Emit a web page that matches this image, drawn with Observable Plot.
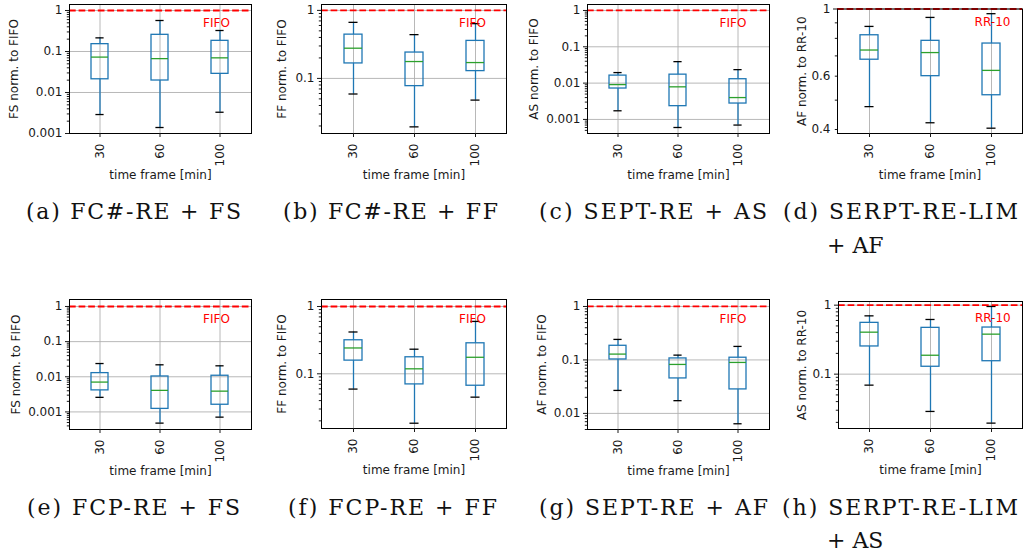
<!DOCTYPE html>
<html><head><meta charset="utf-8">
<script src="https://cdn.jsdelivr.net/npm/d3@7"></script>
<script src="https://cdn.jsdelivr.net/npm/@observablehq/plot@0.6"></script>
<style>
html,body{margin:0;padding:0;background:#fff;}
#root{position:relative;width:1023px;height:555px;overflow:hidden;background:#fff;}
#root svg{position:absolute;}
</style></head><body><div id="root"></div>
<script>
// ---- categories ----
const frames = ["30", "60", "100"];
const xLabel = "time frame [min]";

// ---- box statistics per panel: low whisker, Q1, median, Q3, high whisker (per frame) ----
const aLow = [0.0029, 0.0014, 0.0033], aQ1 = [0.021, 0.0196, 0.0285], aMed = [0.073, 0.067, 0.070], aQ3 = [0.151, 0.255, 0.182], aHigh = [0.215, 0.57, 0.325];
const bLow = [0.059, 0.0194, 0.048], bQ1 = [0.166, 0.077, 0.128], bMed = [0.278, 0.177, 0.171], bQ3 = [0.44, 0.24, 0.356], bHigh = [0.667, 0.44, 0.638];
const cLow = [0.00173, 0.0006, 0.0007], cQ1 = [0.0071, 0.00232, 0.00274], cMed = [0.0091, 0.0079, 0.004], cQ3 = [0.0161, 0.0171, 0.0128], cHigh = [0.0195, 0.039, 0.0235];
const dLow = [0.476, 0.421, 0.404], dQ1 = [0.680, 0.600, 0.519], dMed = [0.732, 0.718, 0.627], dQ3 = [0.819, 0.785, 0.769], dHigh = [0.876, 0.938, 0.965];
const eLow = [0.0026, 0.00048, 0.00071], eQ1 = [0.0041, 0.00122, 0.0016], eMed = [0.00706, 0.0041, 0.0039], eQ3 = [0.0127, 0.0102, 0.0107], eHigh = [0.0238, 0.0219, 0.0205];
const fLow = [0.0593, 0.01845, 0.045], fQ1 = [0.157, 0.0696, 0.0665], fMed = [0.242, 0.1186, 0.176], fQ3 = [0.315, 0.176, 0.284], fHigh = [0.418, 0.232, 0.6];
const gLow = [0.0269, 0.0173, 0.0064], gQ1 = [0.102, 0.0451, 0.0281], gMed = [0.1286, 0.0824, 0.0898], gQ3 = [0.184, 0.1067, 0.11], gHigh = [0.242, 0.123, 0.179];
const hLow = [0.0693, 0.0288, 0.0195], hQ1 = [0.252, 0.128, 0.154], hMed = [0.406, 0.188, 0.38], hQ3 = [0.554, 0.469, 0.474], hHigh = [0.70, 0.62, 0.957];

// ---- axis labels, reference labels, tick labels ----
const yLabels = ["FS norm. to FIFO", "FF norm. to FIFO", "AS norm. to FIFO", "AF norm. to RR-10",
                 "FS norm. to FIFO", "FF norm. to FIFO", "AF norm. to FIFO", "AS norm. to RR-10"];
const refLabels = ["FIFO", "FIFO", "FIFO", "RR-10", "FIFO", "FIFO", "FIFO", "RR-10"];
const captions = ["(a) FC#-RE + FS", "(b) FC#-RE + FF", "(c) SEPT-RE + AS", "(d) SERPT-RE-LIM",
                  "(e) FCP-RE + FS", "(f) FCP-RE + FF", "(g) SEPT-RE + AF", "(h) SERPT-RE-LIM"];
const captionLine2 = ["", "", "", "+ AF", "", "", "", "+ AS"];
const ticks4 = [1, 0.1, 0.01, 0.001], ticks4Labels = ["1", "0.1", "0.01", "0.001"];
const ticks3 = [1, 0.1, 0.01], ticks3Labels = ["1", "0.1", "0.01"];
const ticks2 = [1, 0.1], ticks2Labels = ["1", "0.1"];
const ticksD = [1], ticksDLabels = ["1"];
const ticksDMinorLabeled = [0.6, 0.4], ticksDMinorLabels = ["0.6", "0.4"];

// ---- layout (positions only) ----
const panels = [
  {stats:[aLow,aQ1,aMed,aQ3,aHigh], dom:[0.001,1.40],   ticks:ticks4, tl:ticks4Labels, left:0,   top:0,   w:256, h:190, mL:69, mR:5, mT:4,   mB:57, ylDx:-55,   refDx:-3.5},
  {stats:[bLow,bQ1,bMed,bQ3,bHigh], dom:[0.0155,1.22],  ticks:ticks2, tl:ticks2Labels, left:256, top:0,   w:254, h:190, mL:65, mR:4, mT:4,   mB:57, ylDx:-39.3, refDx:-3},
  {stats:[cLow,cQ1,cMed,cQ3,cHigh], dom:[0.00041,1.46], ticks:ticks4, tl:ticks4Labels, left:510, top:0,   w:262, h:190, mL:77, mR:3, mT:4,   mB:57, ylDx:-53.7, refDx:-5},
  {stats:[dLow,dQ1,dMed,dQ3,dHigh], dom:[0.388,1.0],    ticks:ticksD, tl:ticksDLabels, extra:ticksDMinorLabeled, extraL:ticksDMinorLabels, left:772, top:0, w:251, h:190, mL:65, mR:1, mT:8.5, mB:57, ylDx:-35.3, refDx:1},
  {stats:[eLow,eQ1,eMed,eQ3,eHigh], dom:[0.000316,1.58],ticks:ticks4, tl:ticks4Labels, left:0,   top:290, w:256, h:200, mL:69, mR:5, mT:9,   mB:61, ylDx:-53.5, refDx:-3.5},
  {stats:[fLow,fQ1,fMed,fQ3,fHigh], dom:[0.0154,1.27],  ticks:ticks2, tl:ticks2Labels, left:256, top:290, w:254, h:200, mL:65, mR:4, mT:9,   mB:62, ylDx:-39.3, refDx:-3},
  {stats:[gLow,gQ1,gMed,gQ3,gHigh], dom:[0.005,1.35],   ticks:ticks3, tl:ticks3Labels, left:510, top:290, w:262, h:200, mL:77, mR:3, mT:9,   mB:61, ylDx:-45.7, refDx:-5},
  {stats:[hLow,hQ1,hMed,hQ3,hHigh], dom:[0.0163,1.13],  ticks:ticks2, tl:ticks2Labels, left:772, top:290, w:251, h:200, mL:66, mR:1, mT:11,  mB:62, ylDx:-36.3, refDx:1.3}
];
const capLayout = [
  {x:133.5, y:219, anchor:"middle", len:215}, {x:390.5, y:219, anchor:"middle", len:215},
  {x:653, y:219, anchor:"middle", len:228},   {x:783, y:219, anchor:"start", len:235, x2:827, y2:253},
  {x:133.5, y:515, anchor:"middle", len:213}, {x:392.5, y:515, anchor:"middle", len:209},
  {x:653.5, y:515, anchor:"middle", len:229}, {x:782, y:515, anchor:"start", len:236, x2:827, y2:548}
];

const BLUE = "#1f77b4", GREEN = "#2ca02c", GRID = "#b0b0b0", INK = "#1a1a1a";

function minorTicks(lo, hi) {
  const out = [];
  for (let e = Math.floor(Math.log10(lo)); e <= Math.ceil(Math.log10(hi)); e++)
    for (let k = 2; k <= 9; k++) {
      const v = +(k * Math.pow(10, e)).toPrecision(3);
      if (v >= lo * 0.999 && v <= hi) out.push(v);
    }
  return out;
}

const root = document.getElementById("root");

panels.forEach((p, pi) => {
  const [lo, q1, med, q3, hi] = p.stats;
  const data = frames.map((f, i) => ({frame: f, lo: lo[i], q1: q1[i], med: med[i], q3: q3[i], hi: hi[i]}));
  const step = (p.w - p.mL - p.mR) / 3;
  const capInset = step * 0.29 / 4;
  const labelTicks = p.extra ? p.ticks.concat(p.extra) : p.ticks;
  const labelText = p.extra ? p.tl.concat(p.extraL) : p.tl;
  const fmt = new Map(labelTicks.map((t, i) => [t, labelText[i]]));
  const chart = Plot.plot({
    width: p.w, height: p.h,
    marginLeft: p.mL, marginRight: p.mR, marginTop: p.mT, marginBottom: p.mB,
    style: {fontFamily: "DejaVu Sans", fontSize: "12px", color: INK, background: "transparent", overflow: "visible"},
    x: {type: "band", domain: frames, paddingInner: 0.71, paddingOuter: 0.355},
    y: {type: "log", domain: p.dom},
    marks: [
      Plot.ruleX(frames, {x: d => d, stroke: GRID, strokeWidth: 0.9}),
      Plot.ruleY(p.ticks, {y: d => d, stroke: GRID, strokeWidth: 0.9}),
      Plot.ruleX(data, {x: "frame", y1: "lo", y2: "q1", stroke: BLUE, strokeWidth: 1.3}),
      Plot.ruleX(data, {x: "frame", y1: "q3", y2: "hi", stroke: BLUE, strokeWidth: 1.3}),
      Plot.barY(data, {x: "frame", y1: "q1", y2: "q3", fill: "none", stroke: BLUE, strokeWidth: 1.3}),
      Plot.tickY(data, {x: "frame", y: "med", stroke: GREEN, strokeWidth: 1.3}),
      Plot.tickY(data, {x: "frame", y: "lo", stroke: "black", strokeWidth: 1.3, insetLeft: capInset, insetRight: capInset}),
      Plot.tickY(data, {x: "frame", y: "hi", stroke: "black", strokeWidth: 1.3, insetLeft: capInset, insetRight: capInset}),
      Plot.ruleY([1], {y: d => d, stroke: "red", strokeWidth: 1.8, strokeDasharray: "6.7,2.9"}),
      Plot.text([refLabels[pi]], {x: () => frames[2], y: () => 1, text: d => d, dx: p.refDx, dy: 13, fill: "red", fontSize: 12, lineAnchor: "middle"}),
      Plot.frame({stroke: "black", strokeWidth: 1}),
      Plot.axisY({ticks: labelTicks, tickSize: 0, tickPadding: 7, tickFormat: d => fmt.get(d), label: null}),
      Plot.axisY({ticks: p.ticks, tickSize: 4, tickFormat: () => "", label: null}),
      Plot.axisY({ticks: minorTicks(p.dom[0], p.dom[1]), tickSize: 2.2, tickFormat: () => "", label: null}),
      Plot.axisX({tickRotate: -90, tickSize: 4, tickPadding: 6, label: null}),
      Plot.text([yLabels[pi]], {frameAnchor: "left", dx: p.ylDx, rotate: -90, text: d => d, textAnchor: "middle", lineAnchor: "middle", fontSize: 12, fill: INK}),
      Plot.text([xLabel], {frameAnchor: "bottom", dy: 41.5, text: d => d, textAnchor: "middle", lineAnchor: "middle", fontSize: 12, fill: INK})
    ]
  });
  chart.style.left = p.left + "px";
  chart.style.top = p.top + "px";
  root.appendChild(chart);
});

// ---- captions ----
const ns = "http://www.w3.org/2000/svg";
const cap = document.createElementNS(ns, "svg");
cap.setAttribute("width", 1023); cap.setAttribute("height", 555);
cap.style.left = "0px"; cap.style.top = "0px";
captions.forEach((c, i) => {
  const L = capLayout[i];
  const t = document.createElementNS(ns, "text");
  t.setAttribute("x", L.x); t.setAttribute("y", L.y);
  t.setAttribute("text-anchor", L.anchor);
  t.setAttribute("textLength", L.len);
  t.setAttribute("lengthAdjust", "spacing");
  t.setAttribute("font-family", "DejaVu Serif");
  t.setAttribute("font-size", "22");
  t.setAttribute("fill", "#111");
  t.textContent = c;
  cap.appendChild(t);
  if (captionLine2[i]) {
    const t2 = document.createElementNS(ns, "text");
    t2.setAttribute("x", L.x2); t2.setAttribute("y", L.y2);
    t2.setAttribute("font-family", "DejaVu Serif");
    t2.setAttribute("font-size", "22");
    t2.setAttribute("fill", "#111");
    t2.textContent = captionLine2[i];
    cap.appendChild(t2);
  }
});
root.appendChild(cap);
</script>
</body></html>
